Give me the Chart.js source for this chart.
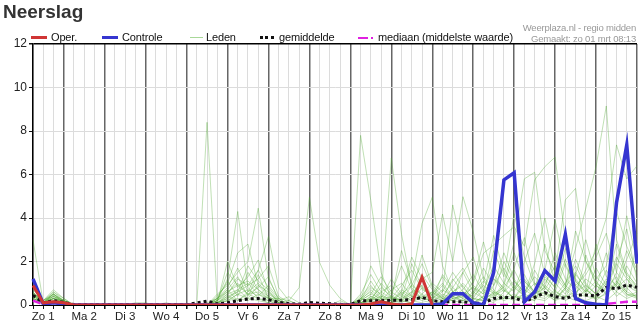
<!DOCTYPE html>
<html><head><meta charset="utf-8">
<script src="https://cdn.jsdelivr.net/npm/chart.js@4.4.1/dist/chart.umd.min.js"></script>
<style>
html,body{margin:0;padding:0;background:#fff;}
#wrap{position:relative;width:638px;height:322px;overflow:hidden;font-family:"Liberation Sans",Arial,sans-serif;}
canvas{position:absolute;left:0;top:0;}
.t{position:absolute;white-space:nowrap;}
#title{left:3px;top:2px;font-size:19px;line-height:19px;font-weight:bold;color:#333;}
.lg{font-size:11px;line-height:12px;top:31px;color:#111;letter-spacing:-0.15px;}
.cr{font-size:9.5px;line-height:10px;right:2px;color:#999;text-align:right;letter-spacing:-0.2px;}
.sw{position:absolute;}
</style></head><body>
<div id="wrap">
<canvas id="c" width="638" height="322"></canvas>
<div class="t" id="title">Neerslag</div>
<div class="sw" style="left:31px;top:36px;width:16px;height:3px;background:#d03535;"></div>
<div class="t lg" style="left:51px;">Oper.</div>
<div class="sw" style="left:102px;top:36px;width:16px;height:3px;background:#3535d0;"></div>
<div class="t lg" style="left:122px;">Controle</div>
<div class="sw" style="left:190px;top:37px;width:13px;height:1px;background:#a8d898;"></div>
<div class="t lg" style="left:206px;">Leden</div>
<div class="sw" style="left:260px;top:36px;width:14px;height:0;border-top:3px dotted #111;"></div>
<div class="t lg" style="left:279px;">gemiddelde</div>
<div class="sw" style="left:358px;top:37px;width:10px;height:2px;background:#e020e0;"></div>
<div class="sw" style="left:371px;top:37px;width:2px;height:2px;background:#e020e0;"></div>
<div class="t lg" style="left:378px;">mediaan (middelste waarde)</div>
<div class="t cr" style="top:23px;">Weerplaza.nl - regio midden</div>
<div class="t cr" style="top:34px;">Gemaakt: zo 01 mrt 08:13</div>
</div>
<script>
// Day labels (one per day, 4 points per day at 6-hour steps, starting Zo 1 06:00)
const dayLabels = ['Zo 1','Ma 2','Di 3','Wo 4','Do 5','Vr 6','Za 7','Zo 8','Ma 9','Di 10','Wo 11','Do 12','Vr 13','Za 14','Zo 15'];
const yTicks = [0,2,4,6,8,10,12];

// Oper. (ends Di 10 18:00)
const oper = [0.9,0.1,0.15, 0.1,0,0,0, 0,0,0,0, 0,0,0,0, 0,0,0,0, 0,0,0,0, 0,0,0,0, 0,0,0,0, 0,0,0.05,0.15, 0.05,0,0.05,1.28, 0];
// Controle
const controle = [1.2,0.05,0.1, 0.05,0,0,0, 0,0,0,0, 0,0,0,0, 0,0,0,0, 0,0,0,0, 0,0,0,0, 0,0,0,0, 0,0,0,0, 0,0,0,0, 0,0.05,0.52,0.52, 0.1,0,1.5,5.75, 6.08,0.15,0.6,1.58, 1.1,3.25,0.3,0.1, 0.03,0,4.7,7.36, 1.9];
// gemiddelde
const gemiddelde = [0.45,0.1,0.2, 0.12,0.02,0.01,0.01, 0.01,0.01,0.01,0.02, 0.02,0.01,0.02,0.01, 0.01,0.1,0.18,0.05, 0.1,0.2,0.28,0.3, 0.25,0.12,0.06,0.03, 0.12,0.08,0.06,0.03, 0.02,0.2,0.2,0.2, 0.22,0.22,0.25,0.35, 0.2,0.15,0.15,0.15, 0.08,0.08,0.3,0.35, 0.33,0.15,0.35,0.57, 0.38,0.3,0.46,0.46, 0.41,0.81,0.75,0.92, 0.81];
// mediaan
const mediaan = [0.2,0.03,0.1, 0.05,0,0,0, 0,0,0,0, 0,0,0,0, 0,0,0,0, 0,0,0,0, 0,0,0,0, 0,0,0,0, 0,0,0,0, 0,0,0,0, 0,0,0,0, 0,0,0,0, 0,0,0,0, 0,0,0,0, 0,0.05,0.1,0.15, 0.15];

// Leden (ensemble members)
const lid01 = [3.0,0.1,0.3, 0.1,0,0,0, 0,0,0,0.1, 0.1,0,0,0, 0,0,8.4,0.1, 0.2,0.5,0.3,0.2, 0.1,0,0,0, 0,0,0,0, 0,0.3,0.6,0.2, 0.1,0.4,0.2,0.1, 0,0.2,0.5,0.3, 0.1,0.4,1.2,0.8, 0.3,0.5,1.0,0.6, 0.2,0.8,1.5,0.7, 0.4,1.0,2.2,1.4, 0.9];
const lid02 = [0.6,0.1,0.5, 0.2,0,0,0, 0,0,0,0, 0,0,0,0, 0,0,0,0.2, 1.2,4.3,0.8,0.3, 0.1,0,0,0, 0,0,0,0, 0,7.8,4.8,1.5, 0.3,0.2,0.1,0.4, 0.6,0.3,0.2,0.5, 0.8,0.3,0.1,0.6, 1.1,0.4,0.2,0.9, 0.5,0.3,1.4,0.8, 0.2,0.6,1.1,0.5, 0.3];
const lid03 = [0.4,0.2,0.6, 0.2,0,0,0, 0,0,0,0, 0,0,0.1,0, 0,0,0,0.5, 0.9,1.5,2.0,4.45, 1.2,0.3,0,0, 0,0,0,0, 0,0.2,0.5,0.3, 6.75,3.25,0.8,0.3, 0.5,1.0,0.4,0.2, 0.6,1.3,0.7,0.3, 0.9,0.4,1.6,0.8, 0.3,0.7,2.1,1.0, 0.5,1.2,0.6,1.8, 1.0];
const lid04 = [0.5,0.1,0.4, 0.1,0,0,0, 0,0,0,0, 0,0,0,0, 0,0,0.1,0.3, 0.6,0.9,1.1,0.7, 0.3,0.1,0.2,0.8, 4.95,1.95,0.9,0.3, 0,0.1,0.4,0.2, 0.1,0.6,2.2,1.2, 0.4,0.2,0.8,1.5, 0.6,0.3,0.9,1.7, 0.8,0.4,0.2,1.2, 0.6,1.9,0.9,0.4, 0.3,0.8,1.3,0.6, 0.4];
const lid05 = [0.3,0.1,0.3, 0.1,0,0,0, 0,0,0,0, 0,0,0,0, 0,0,0,0.2, 0.5,1.2,0.9,1.6, 3.15,0.8,0.2,0, 0,0,0,0, 0,0.3,0.2,0.6, 0.9,0.4,1.1,3.75, 4.95,1.8,0.6,0.3, 0.9,0.5,1.4,0.7, 0.3,1.1,0.6,0.4, 1.3,0.7,0.3,2.3, 0.9,0.5,1.0,2.5, 1.4];
const lid06 = [0.5,0.2,0.7, 0.3,0,0,0, 0,0,0,0, 0,0,0,0, 0,0,0,0.4, 1.0,2.4,2.8,0.9, 0.4,0.1,0,0, 0,0,0.1,0, 0,0.4,0.9,0.3, 0.2,0.7,0.4,1.2, 1.5,4.18,2.0,4.98, 3.37,1.2,0.5,0.8, 1.6,0.7,0.4,1.3, 0.8,2.1,1.1,0.5, 1.7,0.9,2.8,1.3, 0.8];
const lid07 = [0.4,0.1,0.5, 0.2,0.05,0,0, 0,0,0,0, 0,0,0,0, 0,0,0,0.1, 2.0,0.8,1.3,2.07, 0.6,0.2,0,0, 0,0,0,0, 0,0.1,0.3,0.8, 0.4,0.2,0.9,0.5, 1.0,0.6,4.6,2.5, 1.0,2.38,2.76,3.2, 3.6,2.7,5.75,6.36, 6.8,3.0,1.2,0.6, 1.1,0.5,1.5,0.9, 0.6];
const lid08 = [0.3,0.1,0.4, 0.1,0,0,0, 0,0,0,0, 0,0,0,0, 0,0,0,0.3, 0.8,1.7,0.6,1.0, 0.5,0.2,0.38,0.1, 0,0,0,0, 0,0.2,1.1,0.4, 0.3,0.9,1.6,0.7, 0.5,1.3,0.6,0.9, 0.2,0.7,1.8,1.0, 2.9,5.8,6.1,2.5, 1.5,4.83,5.36,2.0, 1.0,0.7,1.9,1.2, 0.6];
const lid09 = [0.5,0.1,0.3, 0.2,0,0,0, 0,0,0,0, 0,0,0,0.05, 0,0,0,0.1, 0.3,0.7,1.0,0.5, 0.2,0,0,0, 0,0,0,0, 0,0,0.4,0.2, 0.1,0.3,0.6,0.9, 0.3,0.7,0.4,0.2, 0.5,1.1,0.6,0.3, 0.8,1.4,0.5,1.0, 1.8,0.9,2.6,4.45, 6.36,9.15,3.0,1.5, 0.8];
const lid10 = [0.4,0.2,0.5, 0.1,0,0,0, 0,0,0,0, 0,0,0,0, 0,0,0,0.2, 1.5,0.9,0.5,0.8, 1.3,0.2,0,0, 0,0,0,0, 0,0.3,0.8,0.5, 0.2,0.6,0.3,1.4, 0.7,0.3,1.2,0.6, 0.4,0.9,0.5,2.0, 1.1,0.6,1.3,0.8, 2.4,1.2,0.7,1.6, 2.5,4.0,7.36,5.8, 6.4];
const lid11 = [0.6,0.1,0.3, 0.2,0,0,0, 0,0,0,0.05, 0.05,0,0,0, 0,0,0,0.1, 0.4,0.6,1.8,1.1, 0.7,0.1,0,0, 0,0,0,0, 0,0.5,1.4,0.6, 0.3,0.2,0.5,2.3, 0.9,0.4,1.1,1.7, 0.8,0.5,2.5,1.3, 4.2,2.2,0.9,1.6, 3.9,1.8,0.9,1.4, 2.2,3.3,1.5,4.1, 2.0];
const lid12 = [0.3,0.1,0.2, 0.1,0,0,0, 0,0,0,0, 0,0,0,0, 0,0,0,0.1, 0.2,0.5,0.7,0.4, 0.9,0.3,0,0, 0,0,0,0.1, 0,0.1,0.2,1.0, 0.5,1.8,0.7,0.3, 0.2,1.4,0.8,0.4, 1.1,2.9,1.2,0.6, 1.7,3.1,1.0,0.7, 1.5,0.8,3.4,2.0, 1.2,1.8,4.3,2.7, 1.6];
const lid13 = [0.5,0.2,0.4, 0.2,0,0,0, 0,0,0,0, 0,0,0,0, 0,0,0,0.2, 0.7,1.3,0.4,1.4, 0.3,0.1,0,0, 0,0,0,0, 0,0.2,0.5,1.3, 0.6,0.3,1.9,0.8, 0.4,0.9,0.3,1.5, 2.2,0.7,0.4,1.0, 0.6,2.0,3.3,1.4, 0.8,2.6,1.1,0.6, 2.8,1.3,0.9,2.1, 3.3];
const lid14 = [0.2,0.1,0.3, 0.1,0,0,0, 0,0,0,0, 0,0,0,0, 0,0,0,0.1, 0.3,0.6,0.9,1.2, 1.8,0.4,0.1,0, 0,0,0,0, 0,0.1,0.2,0.4, 0.2,0.5,0.9,1.9, 0.8,0.3,0.6,1.0, 0.5,1.7,0.9,2.4, 1.2,0.5,1.9,4.0, 1.7,0.9,0.5,1.2, 0.8,2.4,1.1,0.6, 2.9];
const lid15 = [0.7,0.2,0.5, 0.2,0,0,0, 0,0,0,0, 0,0,0,0, 0,0,0,0.3, 1.1,0.4,1.5,0.7, 0.4,0.1,0,0, 0,0,0,0, 0,0.2,0.7,0.3, 1.2,0.5,0.2,0.8, 0.3,0.6,1.5,0.8, 0.3,1.0,3.2,1.5, 0.7,1.2,0.6,2.8, 1.0,0.5,1.4,3.0, 1.3,0.8,2.0,3.5, 1.1];
const lid16 = [0.3,0.1,0.6, 0.3,0,0,0, 0,0,0,0, 0,0,0,0, 0,0,0,0.1, 0.4,0.2,0.6,1.6, 0.8,0.2,0,0, 0,0,0.05,0, 0,0.1,0.3,0.2, 0.7,1.0,0.4,0.3, 0.6,0.2,0.4,0.7, 1.4,0.6,0.3,0.9, 2.4,1.1,0.5,0.8, 0.4,1.0,1.8,0.9, 0.5,1.6,0.8,1.2, 0.7];
const lid17 = [0.2,0.05,0.2, 0.1,0,0,0, 0,0,0,0, 0,0,0,0, 0,0,0,0, 0.2,0.3,0.2,0.5, 0.3,0,0,0, 0,0,0,0, 0,0,0.1,0.3, 0.2,0.1,0.4,0.2, 0.1,0.3,0.2,0.1, 0.3,0.2,0.6,0.4, 0.2,0.5,0.3,0.2, 0.6,0.4,0.2,0.7, 0.3,0.5,0.9,0.4, 0.6];
const lid18 = [0.4,0.1,0.3, 0.1,0,0,0, 0,0,0,0, 0,0,0,0, 0,0,0,0.2, 0.6,1.0,0.5,0.3, 0.2,0,0,0, 0,0,0,0, 0,0,0.2,0.1, 0.1,0.2,0.1,0.5, 0.2,0.1,0.3,0.2, 0.1,0.4,0.2,0.3, 0.5,0.2,0.4,0.6, 0.3,0.8,0.4,0.2, 0.4,0.2,0.6,0.3, 0.5];
const lid19 = [0.6,0.1,0.4, 0.2,0,0,0, 0,0,0,0, 0,0,0,0, 0,0,0,0.1, 0.5,0.7,0.3,0.9, 0.6,0.1,0,0, 0,0,0,0, 0,0,0.3,0.2, 0.4,0.2,0.6,0.3, 0.2,0.5,0.3,0.4, 0.1,0.3,0.5,0.2, 0.4,0.3,0.7,0.5, 0.2,0.4,0.6,0.9, 0.5,1.1,0.4,0.8, 0.3];
const lid20 = [0.3,0.1,0.5, 0.1,0,0,0, 0,0,0,0, 0,0,0,0, 0,0,0,0.3, 0.7,0.2,0.5,0.6, 0.3,0.3,0.2,0, 0,0,0,0.2, 0,0.2,1.8,0.9, 0.3,2.5,1.0,0.4, 0.2,0.4,0.2,0.6, 0.3,0.2,0.4,0.7, 0.3,0.9,0.4,0.3, 0.7,0.2,0.5,0.4, 0.9,0.6,1.0,0.5, 0.4];
const leden = [lid01,lid02,lid03,lid04,lid05,lid06,lid07,lid08,lid09,lid10,lid11,lid12,lid13,lid14,lid15,lid16,lid17,lid18,lid19,lid20];

const N = controle.length;
const labels = [];
for (let i = 0; i < N; i++) labels.push(i % 4 === 1 ? dayLabels[(i - 1) / 4] : '');

// Chart.js draws dataset 0 on top, so the main lines come first
const datasets = [];
datasets.push({label: 'Oper.', data: oper, borderColor: '#d03535', borderWidth: 3, pointRadius: 0, tension: 0, fill: false});
datasets.push({label: 'Controle', data: controle, borderColor: '#3535d0', borderWidth: 3.5, pointRadius: 0, tension: 0, fill: false});
datasets.push({label: 'gemiddelde', data: gemiddelde, borderColor: '#111', borderWidth: 3, borderDash: [3, 3], pointRadius: 0, tension: 0, fill: false});
datasets.push({label: 'mediaan (middelste waarde)', data: mediaan, borderColor: '#e020e0', borderWidth: 2.5, borderDash: [8, 4], pointRadius: 0, tension: 0, fill: false});
leden.forEach((d, k) => datasets.push({
  label: 'Leden ' + (k + 1), data: d, borderColor: 'rgba(80,170,50,0.36)', borderWidth: 1,
  pointRadius: 0, tension: 0, fill: false
}));

new Chart(document.getElementById('c'), {
  type: 'line',
  data: {labels: labels, datasets: datasets},
  options: {
    responsive: false, animation: false, devicePixelRatio: 1,
    layout: {padding: {top: 44, left: 0, right: 0, bottom: 0}},
    plugins: {legend: {display: false}, tooltip: {enabled: false}},
    scales: {
      x: {
        type: 'category', offset: false,
        afterFit: s => { s.height = 17; },
        border: {display: true, color: '#000', width: 1},
        grid: {
          offset: false, drawTicks: true, tickLength: 4, tickColor: '#111',
          color: c => (c.index % 4 === 3 ? '#666' : '#dcdcdc'),
          lineWidth: c => (c.index % 4 === 3 ? 1.5 : 1)
        },
        ticks: {autoSkip: false, maxRotation: 0, minRotation: 0, padding: 1, color: '#222',
          font: {family: '"Liberation Sans", Arial, sans-serif', size: 11.5}}
      },
      y: {
        min: 0, max: 12,
        afterFit: s => { s.width = 33; },
        afterBuildTicks: s => { s.ticks = yTicks.map(v => ({value: v})); },
        border: {display: true, color: '#000', width: 1.5},
        grid: {
          drawTicks: true, tickLength: 4, tickColor: '#111',
          color: c => (c.tick && c.tick.value === 12 ? '#000' : '#dcdcdc'),
          lineWidth: c => (c.tick && c.tick.value === 12 ? 1.5 : 1)
        },
        ticks: {padding: 2, color: '#222', font: {family: '"Liberation Sans", Arial, sans-serif', size: 12}}
      }
    }
  }
});
</script>
</body></html>
